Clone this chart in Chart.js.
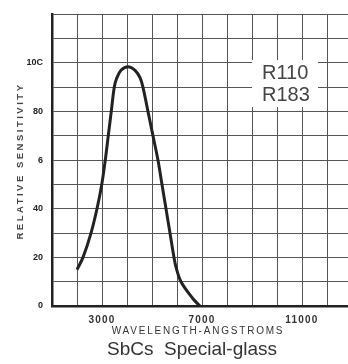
<!DOCTYPE html>
<html>
<head>
<meta charset="utf-8">
<script src="https://cdn.jsdelivr.net/npm/chart.js@4/dist/chart.umd.min.js"></script>
<style>
  html, body { margin: 0; padding: 0; background: #ffffff; }
  #c { display: block; }
</style>
</head>
<body>
<canvas id="c" width="348" height="364"></canvas>
<script>
// ---- data ----
const wavelength  = [2000, 2240, 2560, 2800, 2990, 3130, 3250, 3370, 3490, 3580, 3760, 4040, 4320, 4520, 4640, 4840, 5040, 5240, 5400, 5560, 5720, 5880, 5960, 6160, 6640, 6920];
const sensitivity = [15,   20,   30,   40,   50,   60,   70,   80,   90,   93.5, 97,   98.5, 97,   94,   90,   80,   70,   60,   50,   40,   30,   20,   16,   10,   3,    0];

const xTickValues = [3000, 7000, 11000];
const xTickLabels = ["3000", "7000", "11000"];
const yTickValues = [0, 20, 40, 60, 80, 100];
const yTickLabels = ["0", "20", "40", "6", "80", "10C"];

const xTitle = "WAVELENGTH-ANGSTROMS";
const yTitle = "RELATIVE SENSITIVITY";
const subtitle = "SbCs  Special-glass";
const tubeLabels = ["R110", "R183"];

const FONT = "'Liberation Sans', Arial, Helvetica, sans-serif";

const textPlugin = {
  id: 'textPlugin',
  beforeDraw(chart) {
    const xs = chart.scales.x;
    if (xs && !xs._wrappedLabels) {
      const orig = xs.drawLabels;
      xs.drawLabels = function (ca) {
        const ctx = this.ctx;
        ctx.save();
        try { ctx.letterSpacing = '1.2px'; } catch (e) {}
        orig.call(this, ca);
        ctx.restore();
      };
      xs._wrappedLabels = true;
    }
  },
  beforeDatasetsDraw(chart) {
    const ctx = chart.ctx;
    ctx.save();
    ctx.fillStyle = '#ffffff';
    ctx.fillRect(252, 60, 66, 47);
    ctx.fillStyle = '#444444';
    ctx.font = '20px ' + FONT;
    ctx.textAlign = 'left';
    ctx.textBaseline = 'alphabetic';
    ctx.fillText(tubeLabels[0], 262, 79);
    ctx.fillText(tubeLabels[1], 262, 101);
    ctx.restore();
  },
  afterDraw(chart) {
    const ctx = chart.ctx;
    ctx.save();
    ctx.translate(20, 161);
    ctx.rotate(-Math.PI / 2);
    ctx.fillStyle = '#444444';
    ctx.font = 'bold 9.5px ' + FONT;
    try { ctx.letterSpacing = '2.5px'; } catch (e) {}
    ctx.textAlign = 'center';
    ctx.textBaseline = 'middle';
    ctx.fillText(yTitle, 0, 0);
    ctx.restore();

    ctx.save();
    ctx.fillStyle = '#333333';
    ctx.font = '10px ' + FONT;
    try { ctx.letterSpacing = '1.8px'; } catch (e) {}
    ctx.textAlign = 'center';
    ctx.textBaseline = 'middle';
    ctx.fillText(xTitle, 198, 331);
    ctx.restore();

    ctx.save();
    ctx.fillStyle = '#333333';
    ctx.font = '19px ' + FONT;
    ctx.textAlign = 'left';
    ctx.textBaseline = 'alphabetic';
    ctx.fillText(subtitle, 107, 355);
    ctx.restore();
  }
};

new Chart(document.getElementById('c'), {
  type: 'line',
  data: {
    datasets: [{
      data: wavelength.map((x, i) => ({ x: x, y: sensitivity[i] })),
      borderColor: '#222222',
      borderWidth: 3,
      pointRadius: 0,
      fill: false,
      tension: 0.35
    }]
  },
  options: {
    responsive: false,
    devicePixelRatio: 1,
    animation: false,
    layout: { padding: { top: 7, left: 0, right: 0, bottom: 0 } },
    plugins: { legend: { display: false }, tooltip: { enabled: false } },
    scales: {
      x: {
        type: 'linear',
        min: 1000,
        max: 12840,
        afterBuildTicks: s => {
          const t = [];
          for (let v = 1000; v <= s.max; v += 1000) t.push({ value: v });
          s.ticks = t;
        },
        afterFit: s => { s.height = 58; },
        ticks: {
          autoSkip: false,
          maxRotation: 0,
          padding: 8,
          color: '#333333',
          font: { family: FONT, size: 10, weight: 'bold' },
          callback: v => { const i = xTickValues.indexOf(v); return i >= 0 ? xTickLabels[i] : ''; }
        },
        grid: { color: '#555555', lineWidth: 1, drawTicks: false },
        border: { color: '#222222', width: 2.5 }
      },
      y: {
        type: 'linear',
        min: 0,
        max: 120,
        afterFit: s => { s.width = 52; },
        ticks: {
          stepSize: 10,
          autoSkip: false,
          padding: 9,
          color: '#222222',
          font: { family: FONT, size: 9, weight: 'bold' },
          callback: v => { const i = yTickValues.indexOf(v); return i >= 0 ? yTickLabels[i] : ''; }
        },
        grid: { color: '#555555', lineWidth: 1, drawTicks: false },
        border: { color: '#222222', width: 2.5 }
      }
    }
  },
  plugins: [textPlugin]
});
</script>
</body>
</html>
